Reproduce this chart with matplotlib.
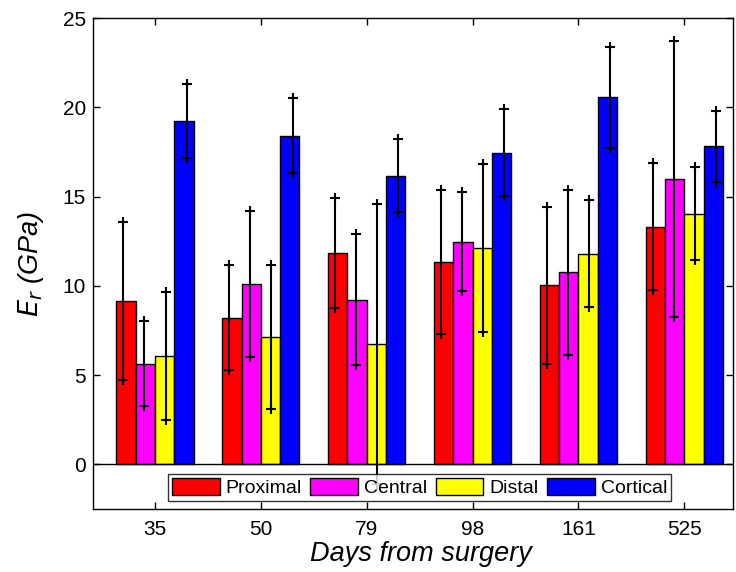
import numpy as np
import matplotlib.pyplot as plt

plt.rcParams['font.family'] = ['Liberation Sans', 'DejaVu Sans']

# 数据
days = ['35', '50', '79', '98', '161', '525']
regions = ['Proximal', 'Central', 'Distal', 'Cortical']
colors = ['#ff0000', '#ff00ff', '#ffff00', '#0000ff']

proximal = [9.15, 8.22, 11.83, 11.34, 10.03, 13.32]
central = [5.64, 10.11, 9.23, 12.48, 10.76, 15.99]
distal = [6.09, 7.12, 6.76, 12.11, 11.81, 14.05]
cortical = [19.23, 18.40, 16.18, 17.45, 20.57, 17.81]

proximal_err = [4.42, 2.93, 3.08, 4.03, 4.39, 3.56]
central_err = [2.38, 4.10, 3.65, 2.79, 4.62, 7.75]
distal_err = [3.58, 4.03, 7.85, 4.70, 3.00, 2.59]
cortical_err = [2.08, 2.10, 2.07, 2.43, 2.83, 1.99]

means = [proximal, central, distal, cortical]
errs = [proximal_err, central_err, distal_err, cortical_err]

x = np.arange(1, len(days) + 1)
bar_w = 0.182
err_step = 0.2

fig = plt.figure(figsize=(7.36, 5.72), dpi=100)
ax = fig.add_axes([0.1264, 0.110, 0.8696, 0.8585])

handles = []
for i in range(4):
    h = ax.bar(x + (i - 1.5) * bar_w, means[i], width=bar_w, color=colors[i],
               edgecolor='black', linewidth=1.0, label=regions[i], zorder=2)
    handles.append(h)

# 误差线（位置与柱子略有错位，和原图一致）
for i in range(4):
    xe = x + (i - 1.5) * err_step
    m = np.array(means[i])
    e = np.array(errs[i])
    ax.errorbar(xe, m, yerr=e, fmt='none', ecolor='black', elinewidth=1.5,
                capsize=0, zorder=3)
    ax.plot(xe, m + e, '+', color='black', markersize=7.5, markeredgewidth=1.5, zorder=3)
    ax.plot(xe, m - e, '+', color='black', markersize=7.5, markeredgewidth=1.5, zorder=3)

ax.axhline(0, color='black', linewidth=1.0, zorder=2)

ax.set_xlim(0.415, 6.46)
ax.set_ylim(-2.5, 25)
ax.set_xticks(x)
ax.set_xticklabels(days)
ax.set_yticks([0, 5, 10, 15, 20, 25])
ax.tick_params(direction='in', length=5, width=1, labelsize=15, top=True, right=True)
ax.tick_params(axis='x', pad=8)
ax.tick_params(axis='y', pad=5)
for s in ax.spines.values():
    s.set_linewidth(1.0)

ax.set_xlabel('Days from surgery', fontsize=19.5, fontstyle='italic')
ax.xaxis.set_label_coords(0.513, -0.066)
ax.set_ylabel(r'$E_r$ (GPa)', fontsize=19.5, fontstyle='italic', labelpad=12)

leg = ax.legend(handles=handles, loc='lower center', ncol=4, fontsize=14,
                bbox_to_anchor=(0.51, 0.016), frameon=True, fancybox=False,
                edgecolor='black', handlelength=2.45, handleheight=1.0,
                handletextpad=0.3, columnspacing=0.45, borderpad=0.2,
                borderaxespad=0.0)
leg.get_frame().set_linewidth(1.0)
leg.set_zorder(5)

fig.savefig('out.png', dpi=100)
